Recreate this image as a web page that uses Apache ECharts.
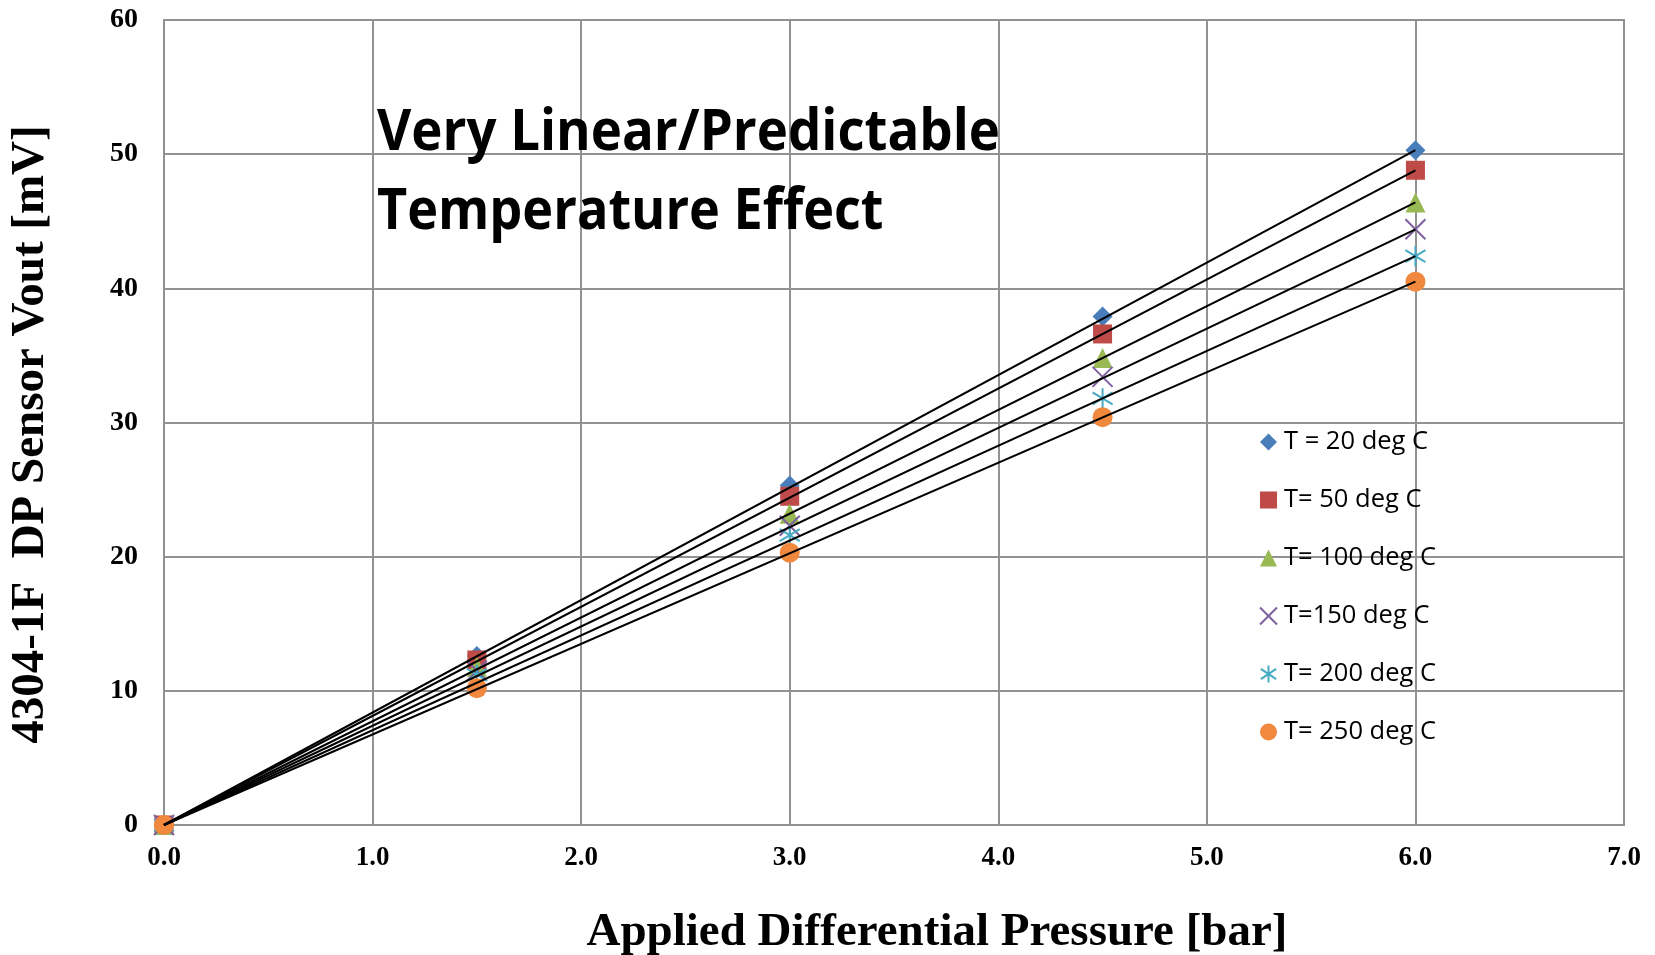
<!DOCTYPE html>
<html>
<head>
<meta charset="utf-8">
<script src="https://cdn.jsdelivr.net/npm/echarts@6/dist/echarts.min.js"></script>
<style>html,body{margin:0;padding:0;background:#fff;}#c{width:1655px;height:955px;}</style>
</head>
<body>
<div id="c"></div>
<script>
var pressure = [0, 1.5, 3, 4.5, 6];
var seriesNames = ['T = 20 deg C', 'T= 50 deg C', 'T= 100 deg C', 'T=150 deg C', 'T= 200 deg C', 'T= 250 deg C'];
var t20  = [0, 12.6, 25.3, 37.9, 50.3];
var t50  = [0, 12.3, 24.5, 36.6, 48.8];
var t100 = [0, 11.8, 23.2, 34.8, 46.4];
var t150 = [0, 11.5, 22.3, 33.4, 44.4];
var t200 = [0, 11.2, 21.6, 31.8, 42.4];
var t250 = [0, 10.2, 20.3, 30.4, 40.5];
var trendX = [0, 6];
var trendStart = [0, 0, 0, 0, 0, 0];
var trendEnd = [50.3, 48.8, 46.4, 44.4, 42.4, 40.5];
var xTicks = [0, 7, 1];
var yTicks = [0, 60, 10];
var titleLines = ['Very Linear/Predictable', 'Temperature Effect'];

var allVals = [t20, t50, t100, t150, t200, t250];
var colors = ['#4A7EBB', '#BE4B48', '#98B954', '#7D60A0', '#46AAC5', '#F0883E'];
var symbols = [
  'diamond',
  'rect',
  'triangle',
  'path://M0 0 L20 20 M20 0 L0 20',
  'path://M10 0 L10 20 M1 4 L19 16 M19 4 L1 16',
  'circle'
];
var series = [];
allVals.forEach(function (vals, i) {
  var strokeOnly = (i === 3 || i === 4);
  series.push({
    name: seriesNames[i],
    type: 'scatter',
    z: 2,
    symbol: symbols[i],
    symbolSize: i === 1 ? 19 : 20,
    data: pressure.map(function (p, k) { return [p, vals[k]]; }),
    itemStyle: strokeOnly ? { color: 'rgba(0,0,0,0)', borderColor: colors[i], borderWidth: 2, opacity: 1 } : { color: colors[i], opacity: 1 }
  });
});
trendEnd.forEach(function (v, i) {
  series.push({
    name: 'trend' + i,
    type: 'line',
    z: 3,
    symbol: 'none',
    silent: true,
    lineStyle: { color: '#000', width: 2 },
    data: [[trendX[0], trendStart[i]], [trendX[1], v]]
  });
});

var chart = echarts.init(document.getElementById('c'), null, { renderer: 'canvas' });
var serifBold = { fontFamily: '"Liberation Serif", "DejaVu Serif", serif', fontWeight: 'bold', color: '#000' };
chart.setOption({
  animation: false,
  backgroundColor: '#fff',
  grid: { left: 164, right: 31, top: 20, bottom: 130, show: true, borderColor: '#929292', borderWidth: 2, outerBoundsMode: 'none', containLabel: false },
  xAxis: {
    type: 'value', min: xTicks[0], max: xTicks[1], interval: xTicks[2],
    name: 'Applied Differential Pressure [bar]', nameLocation: 'middle', nameGap: 84,
    nameTextStyle: Object.assign({ fontSize: 47, padding: [0, 0, 0, 86] }, serifBold),
    axisLine: { lineStyle: { color: '#929292', width: 2 } },
    axisTick: { show: false },
    splitLine: { lineStyle: { color: '#929292', width: 2 } },
    axisLabel: Object.assign({ fontSize: 27, margin: 20, formatter: function (v) { return v.toFixed(1); } }, serifBold)
  },
  yAxis: {
    type: 'value', min: yTicks[0], max: yTicks[1], interval: yTicks[2],
    name: '4304-1F  DP Sensor Vout [mV]', nameLocation: 'middle', nameGap: 110,
    nameTextStyle: Object.assign({ fontSize: 47, padding: [0, 24, 0, 0] }, serifBold),
    axisLine: { lineStyle: { color: '#929292', width: 2 } },
    axisTick: { show: false },
    splitLine: { lineStyle: { color: '#929292', width: 2 } },
    axisLabel: Object.assign({ fontSize: 28, margin: 26 }, serifBold)
  },
  legend: {
    orient: 'vertical', left: 1254, top: 424,
    data: seriesNames,
    itemWidth: 17, itemHeight: 17, itemGap: 32,
    textStyle: { fontFamily: '"Open Sans", "Noto Sans", sans-serif', fontSize: 25.5, color: '#000', lineHeight: 25, padding: [0, 0, 0, 2] }
  },
  graphic: [
    { type: 'text', left: 377, top: 104, z: 10, scaleX: 0.91, style: { text: titleLines[0], font: 'bold 58px "Open Sans", "Noto Sans", sans-serif', fill: '#000' } },
    { type: 'text', left: 377, top: 183, z: 10, scaleX: 0.9, style: { text: titleLines[1], font: 'bold 58px "Open Sans", "Noto Sans", sans-serif', fill: '#000' } }
  ],
  series: series
});
</script>
</body>
</html>
